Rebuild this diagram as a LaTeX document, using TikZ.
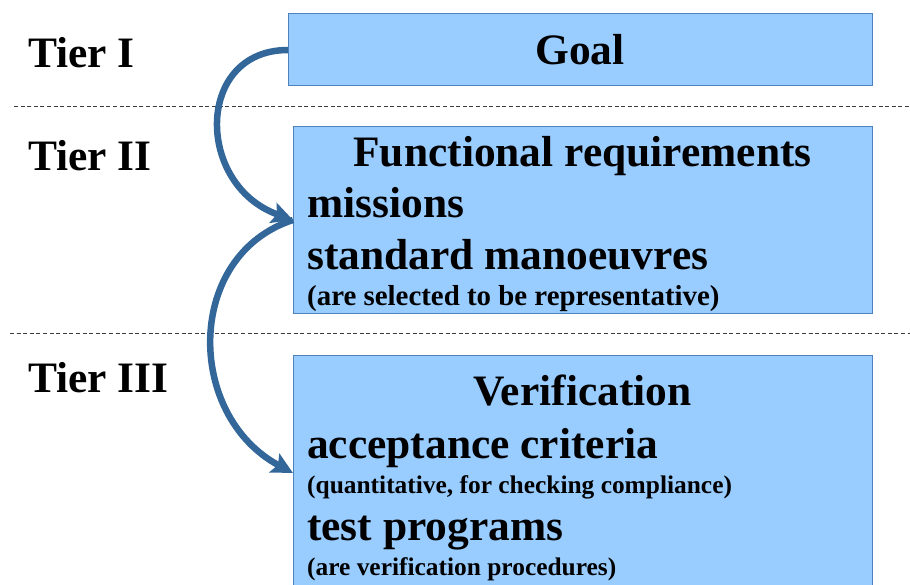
\documentclass[tikz,border=0pt]{standalone}
\usepackage{fontspec}
\setmainfont{Liberation Serif}
\usetikzlibrary{arrows.meta}
\definecolor{boxfill}{RGB}{153,204,255}
\definecolor{boxline}{RGB}{79,129,189}
\definecolor{flowblue}{RGB}{51,102,153}
\definecolor{sepgray}{RGB}{60,60,60}
\tikzset{
  box/.style={draw=boxline, fill=boxfill, line width=1bp, inner sep=0pt, outer sep=0pt, anchor=north west},
  big/.style={font=\fontsize{43.6}{50}\selectfont\bfseries, inner sep=0pt, anchor=base west},
  bigc/.style={big, anchor=base},
  small/.style={font=\fontsize{29}{34}\selectfont\bfseries, inner sep=0pt, anchor=base west},
  smaller/.style={small, font=\fontsize{25.5}{30}\selectfont\bfseries},
  sep/.style={draw=sepgray, line width=1bp, dash pattern=on 4bp off 2.6bp},
  flow/.style={draw=flowblue, line width=6.5bp, -{Stealth[length=21bp,width=21bp,inset=4bp]}}
}
\begin{document}
\begin{tikzpicture}[x=1bp,y=-1bp]
\useasboundingbox (0,0) rectangle (910,585);
\begin{scope}
\clip (0,0) rectangle (910,585);

% tier separators
\coordinate (s1a) at (14,107);  \coordinate (s1b) at (910,107);
\coordinate (s2a) at (10,333);  \coordinate (s2b) at (910,333);
\draw[sep] (s1a) -- (s1b);
\draw[sep] (s2a) -- (s2b);

% tier boxes
\node[box, minimum width=584bp, minimum height=72bp]  (goal) at (288,14) {};
\node[box, minimum width=579bp, minimum height=186bp] (req)  at (293,127) {};
\node[box, minimum width=579bp, minimum height=245bp] (ver)  at (293,355) {};

% tier labels
\node[big] (t1) at (28,68)  {Tier I};
\node[big] (t2) at (28,171) {Tier II};
\node[big] (t3) at (28,392) {Tier III};

% box contents
\node[bigc] (goaltxt) at (580,65) {Goal};

\node[bigc]  (reqtitle) at (582.5,167) {Functional requirements};
\node[big]   (reqa) at (307,218) {missions};
\node[big]   (reqb) at (307,270) {standard manoeuvres};
\node[small] (reqc) at (307,305) {(are selected to be representative)};

\node[bigc]    (vertitle) at (582.5,405) {Verification};
\node[big]     (vera) at (307,458) {acceptance criteria};
\node[smaller] (verb) at (307,493) {(quantitative, for checking compliance)};
\node[big]     (verc) at (307,540) {test programs};
\node[smaller] (verd) at (307,575) {(are verification procedures)};

% flow arrows between tiers
\coordinate (vt) at (293,473);
\draw[flow] (goal.west) .. controls (195,50) and (195,185) .. (req.west);
\draw[flow] (req.west) .. controls (185,255) and (185,415) .. (vt);
\end{scope}
\end{tikzpicture}
\end{document}
